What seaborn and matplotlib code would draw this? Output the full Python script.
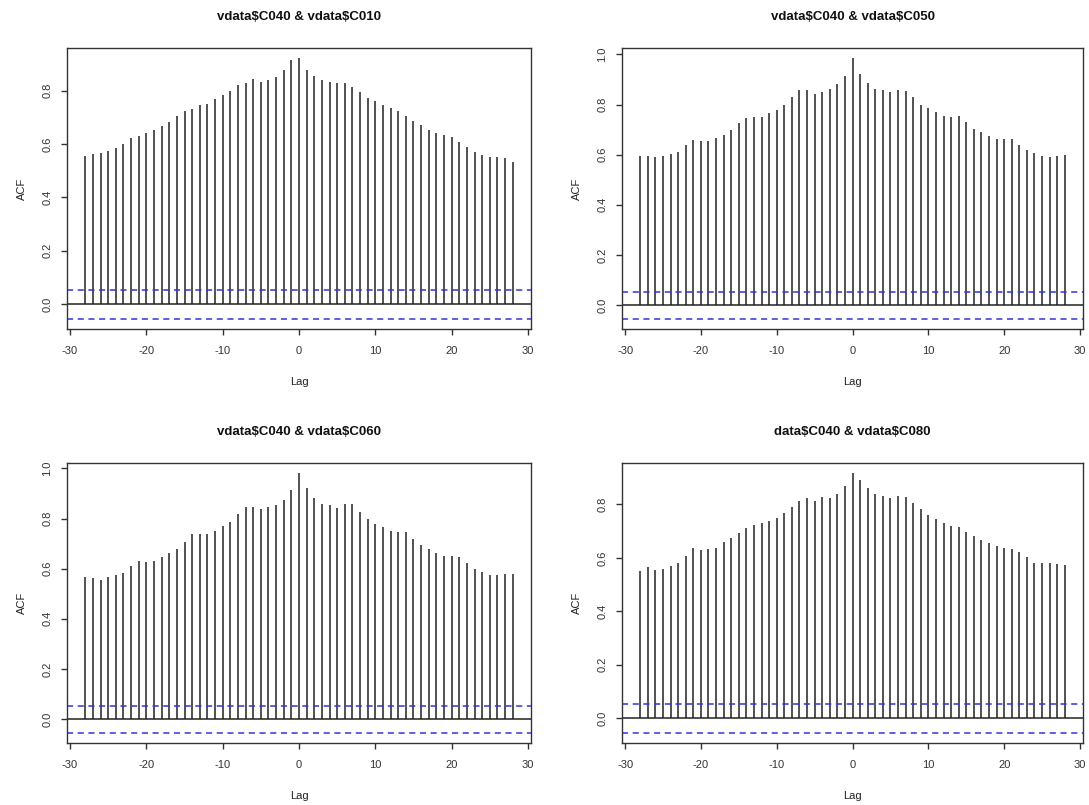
import numpy as np
import pandas as pd
import matplotlib
matplotlib.use("Agg")
import matplotlib.pyplot as plt
import seaborn as sns

lags = list(range(-28, 29))

acf_c010 = [0.556, 0.564, 0.565, 0.573, 0.586, 0.599, 0.621, 0.631, 0.641, 0.653,
            0.666, 0.683, 0.704, 0.724, 0.731, 0.746, 0.751, 0.770, 0.784, 0.800,
            0.821, 0.829, 0.843, 0.834, 0.839, 0.853, 0.879, 0.916, 0.921, 0.878,
            0.854, 0.839, 0.833, 0.830, 0.829, 0.814, 0.794, 0.774, 0.761, 0.745,
            0.735, 0.725, 0.704, 0.688, 0.671, 0.653, 0.641, 0.633, 0.626, 0.606,
            0.590, 0.569, 0.559, 0.553, 0.550, 0.548, 0.531]
acf_c050 = [0.596, 0.593, 0.589, 0.593, 0.601, 0.611, 0.640, 0.660, 0.655, 0.656,
            0.667, 0.680, 0.697, 0.725, 0.748, 0.752, 0.752, 0.765, 0.780, 0.797,
            0.829, 0.856, 0.859, 0.841, 0.848, 0.863, 0.881, 0.913, 0.984, 0.923,
            0.885, 0.863, 0.856, 0.849, 0.859, 0.855, 0.829, 0.800, 0.787, 0.771,
            0.756, 0.752, 0.755, 0.729, 0.704, 0.689, 0.676, 0.661, 0.661, 0.664,
            0.640, 0.620, 0.605, 0.593, 0.591, 0.595, 0.600]
acf_c060 = [0.565, 0.561, 0.555, 0.565, 0.573, 0.584, 0.610, 0.632, 0.628, 0.632,
            0.646, 0.662, 0.677, 0.707, 0.737, 0.738, 0.738, 0.749, 0.769, 0.786,
            0.818, 0.848, 0.848, 0.838, 0.846, 0.855, 0.875, 0.914, 0.980, 0.923,
            0.883, 0.859, 0.852, 0.842, 0.856, 0.856, 0.826, 0.798, 0.779, 0.765,
            0.749, 0.745, 0.745, 0.719, 0.693, 0.677, 0.664, 0.650, 0.650, 0.646,
            0.624, 0.598, 0.588, 0.576, 0.574, 0.577, 0.577]
acf_c080 = [0.550, 0.566, 0.554, 0.559, 0.570, 0.582, 0.607, 0.636, 0.628, 0.632,
            0.637, 0.658, 0.675, 0.693, 0.713, 0.724, 0.729, 0.739, 0.751, 0.768,
            0.791, 0.813, 0.823, 0.814, 0.828, 0.824, 0.838, 0.869, 0.916, 0.890,
            0.862, 0.838, 0.832, 0.825, 0.830, 0.827, 0.805, 0.781, 0.761, 0.744,
            0.731, 0.721, 0.717, 0.698, 0.683, 0.665, 0.655, 0.645, 0.636, 0.633,
            0.622, 0.605, 0.582, 0.579, 0.580, 0.576, 0.572]

titles = ["vdata$C040 & vdata$C010", "vdata$C040 & vdata$C050",
          "vdata$C040 & vdata$C060", "data$C040 & vdata$C080"]
series = [acf_c010, acf_c050, acf_c060, acf_c080]
clim = 0.054
xticks = [-30, -20, -10, 0, 10, 20, 30]

sns.set_theme(style="white")
plt.rcParams["font.family"] = ["Liberation Sans", "DejaVu Sans"]
plt.rcParams["text.parse_math"] = False

fig = plt.figure(figsize=(10.89, 8.05), dpi=100)
boxes = [[0.0615, 0.5913, 0.4261, 0.3491],
         [0.5712, 0.5913, 0.4233, 0.3491],
         [0.0615, 0.0770, 0.4261, 0.3478],
         [0.5712, 0.0770, 0.4233, 0.3478]]

for box, title, vals in zip(boxes, titles, series):
    ax = fig.add_axes(box)
    df = pd.DataFrame({"Lag": lags, "ACF": vals})
    ax.vlines(df["Lag"], 0, df["ACF"], color="#222222", linewidth=1.1)
    ax.axhline(0, color="#222222", linewidth=1.1)
    for c in (clim, -clim):
        ax.axhline(c, color="#3333dd", linewidth=1.1, linestyle=(0, (4, 3)))
    lo = min(-clim, df["ACF"].min())
    hi = max(clim, df["ACF"].max())
    pad = (hi - lo) * 0.04
    ax.set_ylim(lo - pad, hi + pad)
    ax.set_xlim(-30.4, 30.4)
    ax.set_xticks(xticks)
    yt = [t for t in np.arange(0, 1.01, 0.2) if t <= hi + pad]
    ax.set_yticks(yt)
    ax.set_yticklabels([f"{t:.1f}" for t in yt], rotation=90, va="center")
    ax.set_xticklabels([str(t) for t in xticks])
    for s in ax.spines.values():
        s.set_color("#333333")
        s.set_linewidth(1.0)
    ax.tick_params(axis="both", direction="out", length=4.5, width=1,
                   color="#333333", labelsize=8, labelcolor="#333333",
                   bottom=True, left=True)
    ax.tick_params(axis="x", pad=8)
    ax.tick_params(axis="y", pad=6)
    ax.set_xlabel("Lag", fontsize=8, color="#222222", labelpad=15)
    ax.set_ylabel("ACF", fontsize=8, color="#222222", labelpad=11)
    ax.set_title(title, fontsize=9.5, fontweight="bold", color="#111111", pad=20)

fig.savefig("out.png", dpi=100)
